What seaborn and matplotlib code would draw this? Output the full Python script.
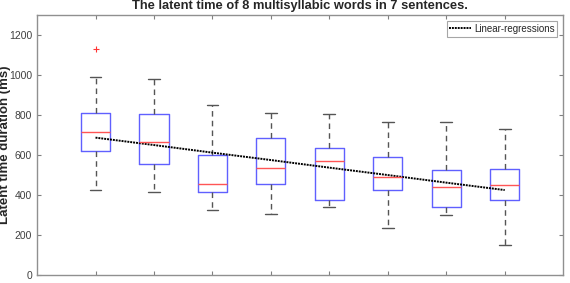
import numpy as np
import pandas as pd
import seaborn as sns
import matplotlib
matplotlib.use("Agg")
import matplotlib.pyplot as plt

# Box statistics (ms), one entry per word position
positions = [1, 2, 3, 4, 5, 6, 7, 8]
lower_whisker = [425, 413, 323, 303, 340, 235, 298, 152]
q1 = [620, 553, 417, 455, 373, 423, 340, 377]
median = [717, 663, 455, 535, 570, 490, 440, 450]
q3 = [808, 803, 602, 683, 635, 588, 523, 532]
upper_whisker = [991, 980, 852, 812, 807, 767, 767, 728]
outliers = [1132, None, None, None, None, None, None, None]

# Linear regression line values at each position
regression = [687, 650, 612, 575, 537, 500, 462, 425]

# build sample values so the quartiles / whiskers come out as read
rows = []
for i, p in enumerate(positions):
    top = outliers[i] if outliers[i] is not None else upper_whisker[i]
    vals = [lower_whisker[i], lower_whisker[i], q1[i], q1[i], median[i],
            q3[i], q3[i], upper_whisker[i], top]
    for v in vals:
        rows.append({"word": p, "latency": v})
df = pd.DataFrame(rows)
df_reg = pd.DataFrame({"pos": [p - 1 for p in positions], "latency": regression})

sns.set_style("white")
plt.rcParams["font.family"] = ["Liberation Sans", "DejaVu Sans"]

fig = plt.figure(figsize=(5.7, 2.83), dpi=100)
ax = fig.add_axes([0.065, 0.028, 0.923, 0.919])

sns.boxplot(
    data=df, x="word", y="latency", ax=ax,
    fill=False, width=0.5, whis=1.5, linewidth=1.0,
    linecolor="#5555ff",
    boxprops={"color": "#6060ff", "linewidth": 1.0},
    medianprops={"color": "#ff5555", "linewidth": 1.0},
    whiskerprops={"color": "#555555", "linestyle": (0, (4, 3)), "linewidth": 1.0},
    capprops={"color": "#555555", "linewidth": 1.0},
    flierprops={"marker": "+", "markeredgecolor": "#ff3333", "markersize": 5,
                "markeredgewidth": 0.8},
    capwidths=0.2,
)

sns.lineplot(data=df_reg, x="pos", y="latency", ax=ax, color="black",
             linestyle=(0, (1, 0.5)), linewidth=1.4, label="Linear-regressions")

ax.set_xlim(-1, 8)
ax.set_ylim(0, 1300)
ax.set_yticks([0, 200, 400, 600, 800, 1000, 1200])
ax.set_xticks(range(8))
ax.set_xticklabels([])
ax.set_xlabel("")
ax.set_ylabel("Latent time duration (ms)", fontsize=9.5, fontweight="bold")
ax.yaxis.set_label_coords(-0.049, 0.5)
ax.set_title("The latent time of 8 multisyllabic words in 7 sentences.",
             fontsize=9.3, fontweight="bold", pad=4)

ax.tick_params(axis="both", direction="in", length=3, width=0.8,
               colors="#808080", labelcolor="#404040", labelsize=7.5,
               top=True, right=True, bottom=True, left=True)
for s in ax.spines.values():
    s.set_visible(True)
    s.set_color("#909090")
    s.set_linewidth(1.0)

leg = ax.legend(loc="upper right", fontsize=7, frameon=True, fancybox=False,
                handlelength=2.2, handletextpad=0.3, borderpad=0.3,
                borderaxespad=0.6)
leg.get_frame().set_edgecolor("#909090")
leg.get_frame().set_linewidth(0.8)

fig.savefig("out.png", dpi=100)
